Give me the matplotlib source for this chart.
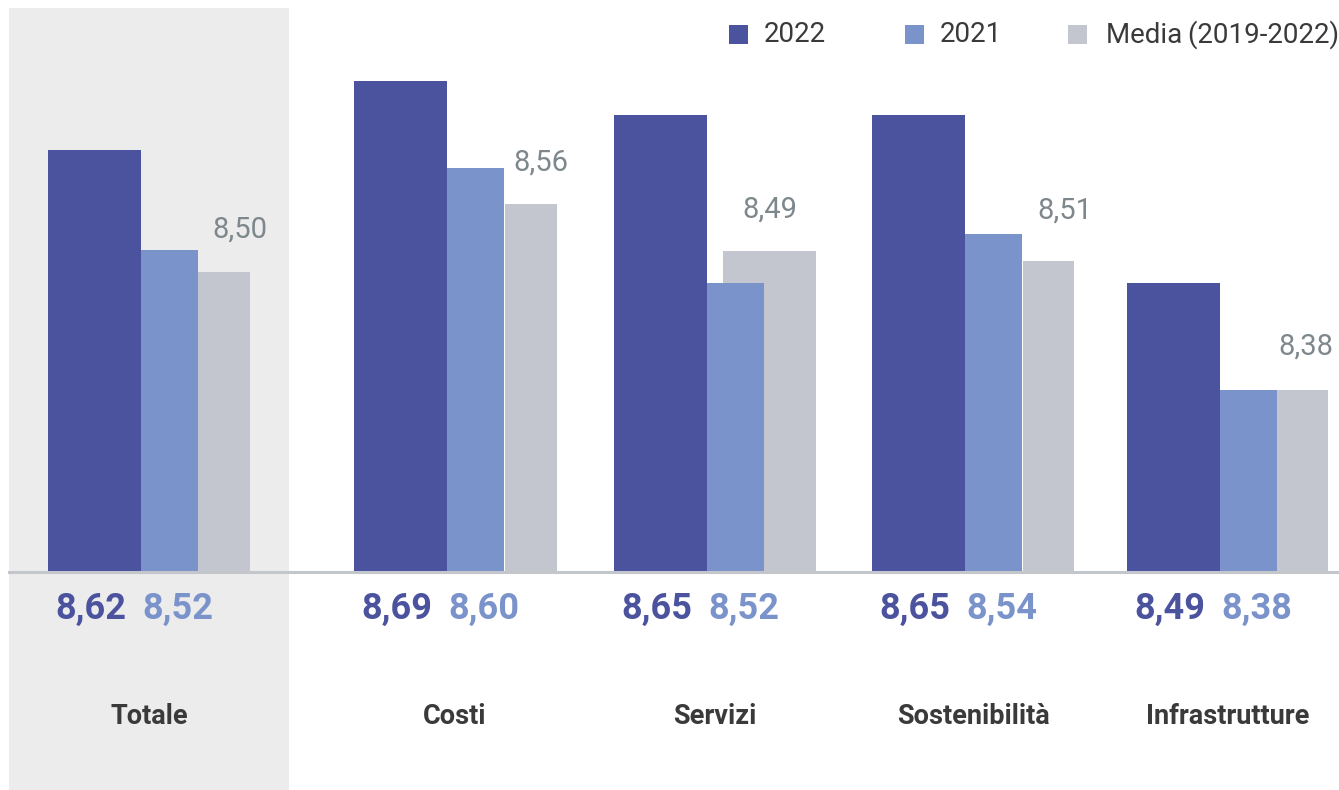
"""Grouped bars: satisfaction scores 2022 vs 2021 vs 2019-2022 average."""

import matplotlib

matplotlib.use("Agg")
import matplotlib.pyplot as plt  # noqa: E402
from matplotlib.patches import Rectangle  # noqa: E402

W, H = 1339, 790

C2022 = "#4b529e"
C2021 = "#7b93cb"
CMEDIA = "#c3c6ce"
PANEL = "#ececec"
BASELINE = "#c3c6ca"
INK = "#3a3a3a"
LABEL_GREY = "#7d878c"

plt.rcParams["font.family"] = ["Roboto", "DejaVu Sans"]

# data
categories = ["Totale", "Costi", "Servizi", "Sostenibilità", "Infrastrutture"]
v2022 = [8.62, 8.689, 8.655, 8.655, 8.487]       # bar heights as drawn
v2021 = [8.52, 8.602, 8.487, 8.536, 8.38]        # bar heights as drawn
vmedia = [8.498, 8.566, 8.519, 8.509, 8.38]      # bar heights as drawn
lab2022 = ["8,62", "8,69", "8,65", "8,65", "8,49"]
lab2021 = ["8,52", "8,60", "8,52", "8,54", "8,38"]
labmedia = ["8,50", "8,56", "8,49", "8,51", "8,38"]
legend_labels = ["2022", "2021", "Media\u2009(2019-2022)"]

# layout (pixels)
BASE = 8.198
group_left = [48, 354, 614, 872, 1127]
media_dx = [150, 151, 109, 151, 150]
media_w = [52, 52, 93, 51, 51]
media_lab_dx = [16, 10, 0, 16, 3]
media_lab_dy = [42, 41, 41, 50, 43]
W22, W21 = 93, 57
legend_x = [729, 905, 1068]
legend_gap = [35, 35, 38]

fig = plt.figure(figsize=(W / 100, H / 100), dpi=100)
ax = fig.add_axes([0, 0, 1, 1])
ax.set_xlim(0, W)
ax.set_ylim(BASE - 0.218, BASE + 0.572)
ax.axis("off")

# highlighted panel behind "Totale"
ax.axvspan(9, 289, ymin=0, ymax=1 - 8 / H, color=PANEL, zorder=0, lw=0)

x22 = list(group_left)
x21 = [g + W22 for g in group_left]
xm = [g + d for g, d in zip(group_left, media_dx)]

ax.bar(x22, [v - BASE for v in v2022], bottom=BASE, width=W22,
       align="edge", color=C2022, zorder=2, lw=0)
ax.bar(xm, [v - BASE for v in vmedia], bottom=BASE, width=media_w,
       align="edge", color=CMEDIA, zorder=2, lw=0)
ax.bar(x21, [v - BASE for v in v2021], bottom=BASE, width=W21,
       align="edge", color=C2021, zorder=3, lw=0)

ax.axhline(BASE, xmin=9 / W, xmax=1, color=BASELINE, lw=2.2, zorder=4)

for i, cat in enumerate(categories):
    # grey average label above media bar
    ax.annotate(labmedia[i], (xm[i] + media_w[i] / 2 + media_lab_dx[i], vmedia[i]),
                xytext=(0, media_lab_dy[i] * 0.72), textcoords="offset points",
                ha="center", va="center", fontsize=21, color=LABEL_GREY)
    # bold values under the baseline
    ax.text(x22[i] + W22 / 2 - 4, 1 - 609 / H, lab2022[i],
            transform=ax.get_xaxis_transform(), ha="center", va="center",
            fontsize=26, fontweight="bold", color=C2022)
    ax.text(x21[i] + W21 / 2 + 8, 1 - 609 / H, lab2021[i],
            transform=ax.get_xaxis_transform(), ha="center", va="center",
            fontsize=26, fontweight="bold", color=C2021)
    # category name
    ax.text(x22[i] + (W22 + W21 + 52) / 2, 1 - 716 / H, cat,
            transform=ax.get_xaxis_transform(), ha="center", va="center",
            fontsize=19.5, fontweight="bold", color=INK)

# legend drawn by hand, running to the right edge like the original
for px, gap, lab, col in zip(legend_x, legend_gap, legend_labels,
                             [C2022, C2021, CMEDIA]):
    fig.patches.append(Rectangle((px / W, 1 - 44 / H), 19 / W, 19 / H,
                                 transform=fig.transFigure, color=col, lw=0))
    fig.text((px + gap) / W, 1 - 35 / H, lab, ha="left", va="center",
             fontsize=20, color=INK)

fig.savefig("out.png", dpi=100)
